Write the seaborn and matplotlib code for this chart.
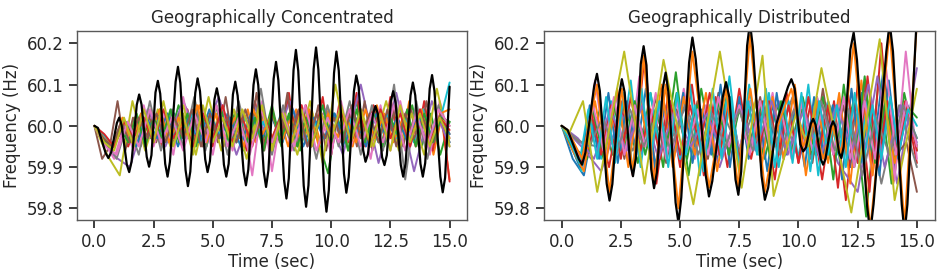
import numpy as np
import matplotlib
matplotlib.use("Agg")
import matplotlib.pyplot as plt
import seaborn as sns

# ---- data ----
# geographically concentrated: the black trace (extremes and their shoulders, read at their times)
conc_black_t = [0.0, 0.15, 0.47, 0.59, 0.71, 0.95, 1.05, 1.15, 1.37, 1.47, 1.57, 1.79, 1.89, 1.99,
                2.21, 2.31, 2.41, 2.58, 2.68, 2.78, 2.99, 3.09, 3.19, 3.43, 3.53, 3.63, 3.85, 3.95,
                4.05, 4.26, 4.36, 4.46, 4.68, 4.78, 4.88, 5.07, 5.17, 5.27, 5.47, 5.57, 5.67, 5.85,
                5.95, 6.05, 6.30, 6.40, 6.50, 6.72, 6.82, 6.92, 7.15, 7.25, 7.35, 7.57, 7.67, 7.77,
                8.01, 8.11, 8.21, 8.41, 8.51, 8.61, 8.84, 8.94, 9.04, 9.26, 9.36, 9.46, 9.70, 9.80,
                9.90, 10.12, 10.22, 10.32, 10.54, 10.64, 10.74, 10.96, 11.06, 11.16, 11.35, 11.45,
                11.55, 11.77, 11.87, 11.97, 12.15, 12.25, 12.35, 12.52, 12.62, 12.72, 12.94, 13.04,
                13.14, 13.35, 13.45, 13.55, 13.77, 13.87, 13.97, 14.16, 14.26, 14.36, 14.61, 14.71,
                14.81, 15.0]
conc_black_f = [60.0, 59.995, 59.935, 59.922, 59.936, 60.007, 60.020, 60.002, 59.906, 59.888, 59.913,
                60.051, 60.076, 60.052, 59.925, 59.901, 59.929, 60.081, 60.109, 60.078, 59.908, 59.877,
                59.913, 60.107, 60.143, 60.104, 59.893, 59.854, 59.889, 60.080, 60.115, 60.084, 59.919,
                59.888, 59.915, 60.064, 60.091, 60.062, 59.906, 59.877, 59.908, 60.076, 60.107, 60.073,
                59.890, 59.856, 59.894, 60.099, 60.137, 60.099, 59.890, 59.852, 59.893, 60.114, 60.155,
                60.110, 59.869, 59.824, 59.873, 60.135, 60.184, 60.133, 59.855, 59.804, 59.856, 60.138,
                60.190, 60.136, 59.846, 59.792, 59.844, 60.128, 60.180, 60.134, 59.884, 59.838, 59.876,
                60.084, 60.122, 60.094, 59.941, 59.913, 59.931, 60.030, 60.048, 60.029, 59.924, 59.905,
                59.929, 60.060, 60.084, 60.056, 59.905, 59.877, 59.908, 60.074, 60.105, 60.074, 59.908,
                59.877, 59.910, 60.090, 60.123, 60.085, 59.877, 59.839, 59.874, 60.095]

# the other generators, sampled evenly over 0-15 s
conc_blue = [60.0, 59.97, 59.95, 59.99, 59.96, 60.02, 59.97, 60.01, 59.96, 60.03, 59.98, 60.02, 59.96,
             60.01, 59.97, 60.03, 59.96, 60.02, 59.97, 60.01, 59.95, 60.02, 59.97, 60.03, 59.96, 60.01,
             59.97, 60.02, 59.95, 60.03, 59.97, 60.02, 59.96, 60.03, 59.98, 60.02, 59.96, 60.03, 59.97,
             60.01, 59.96]
conc_orange = [60.0, 59.98, 59.94, 59.99, 59.95, 60.02, 59.96, 60.04, 59.97, 60.03, 59.96, 60.02, 59.98,
               60.05, 59.97, 60.03, 59.95, 60.02, 59.97, 60.04, 59.96, 60.03, 59.97, 60.02, 59.95, 60.04,
               59.97, 60.03, 59.96, 60.04, 59.97, 60.02, 59.95, 60.03, 59.96, 60.05, 59.97, 60.04, 59.95,
               60.06, 59.96, 60.04, 59.93, 60.02, 59.87]
conc_green = [60.0, 59.97, 59.95, 60.0, 59.96, 60.03, 59.97, 60.04, 59.96, 60.05, 59.97, 60.03, 59.95,
              60.05, 59.96, 60.03, 59.94, 60.04, 59.96, 60.05, 59.95, 60.04, 59.94, 60.03, 59.96, 59.885,
              60.02, 59.95, 60.06, 59.96, 60.04, 59.95, 60.03, 59.96, 60.05, 59.95, 60.03, 59.93, 60.01]
conc_red = [60.0, 59.98, 59.94, 59.98, 59.95, 60.01, 59.96, 60.03, 59.95, 60.02, 59.97, 60.04, 59.96,
            60.02, 59.95, 60.03, 59.96, 60.05, 59.94, 60.06, 59.95, 60.04, 59.96, 60.08, 59.95, 60.05,
            59.97, 60.07, 59.93, 60.06, 59.96, 60.08, 59.95, 60.05, 59.94, 60.07, 59.96, 60.04, 59.95,
            60.06, 59.94, 60.04, 59.865]
conc_purple = [60.0, 59.93, 59.90, 60.04, 59.95, 60.06, 59.96, 60.07, 59.93, 60.05, 59.94, 60.06, 59.95,
               60.04, 59.93, 60.10, 59.91, 60.08, 59.89, 60.06, 59.95]
conc_brown = [60.0, 59.92, 59.95, 60.06, 59.94, 60.02, 59.95, 60.03, 59.96, 60.02, 59.95, 60.03, 59.97,
              60.04, 59.95, 60.02, 59.96, 60.07, 59.95, 60.03, 59.96, 60.08, 59.94, 60.03, 59.96, 60.08,
              59.95, 60.04, 59.96, 60.05, 59.94, 60.03, 59.96, 60.04, 59.95, 60.06, 59.94, 60.03, 59.96,
              60.05, 59.95, 60.04, 59.95, 60.06, 59.96, 60.03, 59.98]
conc_pink = [60.0, 59.96, 59.92, 60.0, 59.94, 60.05, 59.95, 60.03, 59.93, 60.07, 59.95, 60.04, 59.93,
             60.05, 59.94, 60.03, 59.88, 60.06, 59.89, 60.04, 59.94, 60.05, 59.95, 60.03, 59.93, 60.06,
             59.95, 60.04, 59.92, 60.05, 59.94, 60.06, 59.95, 60.04, 59.93, 60.06, 59.97]
conc_gray = [60.0, 59.97, 59.92, 60.01, 59.93, 60.06, 59.94, 60.04, 59.95, 60.07, 59.94, 60.05, 59.93,
             60.06, 59.95, 60.09, 59.93, 60.05, 59.94, 60.04, 59.92, 60.05, 59.95, 60.06, 59.93, 60.05,
             59.94, 60.10, 59.87, 60.06, 59.92, 60.05, 59.96]
conc_olive = [60.0, 59.93, 59.88, 60.06, 59.94, 60.04, 59.95, 60.05, 59.93, 60.07, 59.94, 60.04, 59.92,
              60.05, 59.95, 60.03, 59.93, 60.06, 59.91, 60.10, 59.94, 60.04, 59.95, 60.06, 59.94, 60.03,
              59.93, 60.09, 59.95]
conc_cyan = [60.0, 59.98, 59.95, 59.99, 59.96, 60.01, 59.97, 60.02, 59.96, 60.01, 59.97, 60.03, 59.96,
             60.02, 59.98, 60.01, 59.96, 60.02, 59.97, 60.01, 59.96, 60.03, 59.97, 60.02, 59.96, 60.01,
             59.97, 60.03, 59.96, 60.02, 59.97, 60.01, 59.96, 60.03, 59.97, 60.02, 59.96, 60.04, 59.97,
             60.02, 60.105]
conc_blue2 = [60.0, 59.96, 59.96, 60.01, 59.95, 60.02, 59.97, 60.03, 59.95, 60.02, 59.96, 60.04, 59.97,
              60.02, 59.95, 60.03, 59.97, 60.02, 59.96, 60.04, 59.95, 60.02, 59.97, 60.03, 59.96, 60.02,
              59.95, 60.03, 59.97, 60.02, 59.96, 60.03, 59.97, 60.02, 59.98]
conc_orange2 = [60.0, 59.97, 59.95, 60.02, 59.96, 60.03, 59.98, 60.04, 59.96, 60.02, 59.97, 60.05, 59.96,
                60.03, 59.97, 60.02, 59.95, 60.04, 59.98, 60.03, 59.96, 60.02, 59.97, 60.04, 59.95, 60.03,
                59.97, 60.02, 59.96, 60.04, 59.97, 60.03, 59.96, 60.02, 59.98, 60.04, 59.96, 60.03, 60.04]
conc_green2 = [60.0, 59.97, 59.94, 60.0, 59.96, 60.03, 59.95, 60.02, 59.97, 60.04, 59.96, 60.03, 59.95,
               60.02, 59.97, 60.04, 59.95, 60.03, 59.96, 60.02, 59.94, 60.04, 59.96, 60.03, 59.95, 60.02,
               59.97, 60.05, 59.96, 60.03, 59.94, 60.04, 59.96, 60.03, 59.95, 60.02, 59.97, 60.04, 59.95,
               60.03, 59.96, 60.02, 60.01]
conc_red2 = [60.0, 59.98, 59.95, 60.01, 59.97, 60.02, 59.96, 60.04, 59.97, 60.02, 59.95, 60.03, 59.97,
             60.05, 59.96, 60.02, 59.95, 60.04, 59.97, 60.03, 59.96, 60.05, 59.95, 60.03, 59.97, 60.04,
             59.96, 60.02, 59.95, 60.04, 59.97, 60.03, 59.95, 60.04, 59.96, 60.02, 59.99]
conc_pink2 = [60.0, 59.95, 59.93, 60.01, 59.95, 60.04, 59.96, 60.02, 59.94, 60.03, 59.96, 60.05, 59.95,
              60.02, 59.93, 60.04, 59.96, 60.03, 59.95, 60.05, 59.94, 60.02, 59.96, 60.04, 59.95, 60.03,
              59.96, 60.05, 59.94, 60.03, 59.95, 60.04, 60.0]
conc_olive2 = [60.0, 59.96, 59.94, 60.02, 59.95, 60.04, 59.96, 60.06, 59.95, 60.03, 59.93, 60.05, 59.96,
               60.02, 59.95, 60.04, 59.97, 60.05, 59.94, 60.03, 59.96, 60.04, 59.95, 60.03, 59.97, 60.05,
               59.96, 60.04, 59.95, 60.03, 59.94, 60.05, 59.96, 60.03, 59.95, 60.02, 59.97]
conc_brown2 = [60.0, 59.97, 59.95, 60.01, 59.96, 60.02, 59.97, 60.03, 59.96, 60.02, 59.97, 60.04, 59.95,
               60.03, 59.97, 60.02, 59.96, 60.04, 59.97, 60.03, 59.96, 60.02, 59.97, 60.04, 59.95, 60.03,
               59.97, 60.02, 59.96, 60.05, 59.97, 60.03, 59.96, 60.04, 59.95, 60.03, 59.97, 60.02, 59.96,
               60.03, 60.0]

# geographically distributed
dist_black_t = [0.0, 0.25, 0.72, 0.86, 1.00, 1.37, 1.49, 1.61, 1.90, 2.02, 2.14, 2.42, 2.54, 2.66,
                2.89, 3.01, 3.13, 3.34, 3.46, 3.58, 3.78, 3.90, 4.02, 4.27, 4.39, 4.51, 4.81, 4.93,
                5.05, 5.38, 5.52, 5.66, 6.08, 6.22, 6.36, 6.80, 6.94, 7.08, 7.34, 7.46, 7.58, 7.83,
                7.95, 8.07, 8.44, 8.58, 8.72, 9.07, 9.25, 9.56, 9.70, 9.84, 10.08, 10.20, 10.32,
                10.52, 10.62, 10.72, 10.94, 11.04, 11.14, 11.36, 11.46, 11.56, 11.71, 11.81, 11.91,
                12.19, 12.33, 12.47, 12.89, 13.03, 13.17, 13.71, 13.85, 13.99, 14.36, 14.48, 14.60,
                15.0]
dist_black_f = [60.0, 59.99, 59.92, 59.906, 59.935, 60.096, 60.126, 60.085, 59.860, 59.819, 59.859,
                60.073, 60.113, 60.081, 59.910, 59.878, 59.921, 60.150, 60.193, 60.147, 59.895, 59.849,
                59.887, 60.091, 60.129, 60.080, 59.814, 59.765, 59.826, 60.153, 60.214, 60.162, 59.881,
                59.829, 59.866, 60.069, 60.106, 60.069, 59.870, 59.833, 59.889, 60.194, 60.25, 60.192,
                59.879, 59.821, 59.850, 60.005, 60.04, 60.095, 60.113, 60.090, 59.955, 59.938, 59.948,
                60.005, 60.017, 60.003, 59.92, 59.906, 59.92, 59.997, 60.011, 59.998, 59.935, 59.922,
                59.95, 60.185, 60.226, 60.16, 59.81, 59.74, 59.81, 60.18, 60.25, 60.18, 59.81, 59.74,
                59.81, 60.27]
dist_orange_t = [0.0, 0.25, 0.86, 1.49, 2.02, 2.54, 3.01, 3.46, 3.90, 4.39, 4.93, 5.52, 6.22, 6.94,
                 7.46, 7.95, 8.58, 9.07, 9.25, 9.70, 10.20, 10.62, 11.04, 11.46, 11.81, 12.33, 13.03,
                 13.85, 14.48, 15.0]
dist_orange_f = [60.0, 59.99, 59.92, 60.10, 59.84, 60.09, 59.89, 60.17, 59.86, 60.10, 59.80, 60.18,
                 59.85, 60.09, 59.85, 60.22, 59.84, 59.99, 60.02, 60.09, 59.95, 60.01, 59.92, 60.0,
                 59.93, 60.20, 59.75, 60.23, 59.76, 60.25]
dist_olive_t = [0.0, 0.3, 0.9, 1.5, 2.64, 3.5, 4.30, 5.56, 6.68, 7.6, 8.48, 8.95, 9.9, 10.4, 10.97,
                12.23, 13.43, 14.06, 15.0]
dist_olive_f = [60.0, 59.98, 60.06, 59.84, 60.18, 59.86, 60.16, 59.81, 60.18, 59.85, 60.17, 59.83,
                60.03, 59.95, 60.14, 59.79, 60.21, 59.82, 60.09]

dist_blue = [60.0, 59.92, 59.88, 60.02, 59.93, 60.08, 59.94, 60.10, 59.92, 60.06, 59.93, 60.07, 59.95,
             60.04, 59.92, 60.08, 59.94, 60.06, 59.93, 60.05, 59.92, 60.04, 59.95, 60.07, 59.93, 60.05,
             59.90, 60.08, 59.92, 60.14, 59.90, 60.06, 59.95]
dist_green = [60.0, 59.94, 59.92, 60.04, 59.93, 60.06, 59.91, 60.08, 59.90, 60.13, 59.88, 60.09, 59.92,
              60.07, 59.93, 60.06, 59.92, 60.05, 59.94, 60.07, 59.93, 60.04, 59.92, 60.06, 59.78, 60.12,
              59.86, 60.08, 59.94]
dist_red = [60.0, 59.95, 59.92, 60.02, 59.90, 60.06, 59.88, 60.17, 59.86, 60.08, 59.90, 60.10, 59.88,
            60.07, 59.90, 60.09, 59.92, 60.06, 59.87, 60.08, 59.91, 60.05, 59.87, 60.06, 59.82, 60.10,
            59.84, 60.20, 59.86, 60.06, 59.91]
dist_purple = [60.0, 59.95, 59.89, 60.03, 59.93, 60.05, 59.92, 60.04, 59.90, 60.05, 59.93, 60.06, 59.92,
               60.05, 59.91, 59.84, 60.12, 59.86, 60.14]
dist_brown = [60.0, 59.96, 59.92, 60.03, 59.94, 60.06, 59.92, 60.05, 59.95, 60.07, 59.91, 60.04, 59.94,
              60.06, 59.92, 60.08, 59.93, 60.05, 59.95, 60.07, 59.92, 60.04, 59.94, 60.06, 59.91, 60.09,
              59.93, 60.05, 59.90, 60.10, 59.92, 60.06, 59.93, 59.96, 59.84]
dist_pink = [60.0, 59.96, 59.90, 60.11, 59.93, 60.08, 59.91, 60.12, 59.92, 60.06, 59.94, 60.09, 59.92,
             60.05, 59.93, 60.07, 59.94, 60.06, 59.95, 60.08, 59.92, 60.05, 59.94, 60.07, 59.93, 60.06,
             59.92, 60.05, 59.88, 60.10, 59.87, 60.18, 59.92]
dist_gray = [60.0, 59.96, 59.95, 60.04, 59.94, 60.03, 59.95, 60.05, 59.93, 60.04, 59.94, 60.06, 59.95,
             60.07, 59.92, 60.06, 59.94, 60.08, 59.86, 60.05, 59.90]
dist_cyan = [60.0, 59.95, 59.89, 60.02, 59.92, 60.06, 59.94, 60.11, 59.90, 60.08, 59.93, 60.06, 59.92,
             60.10, 59.88, 60.05, 59.93, 60.12, 59.91, 60.10, 59.93, 60.08, 59.90, 60.06, 59.92, 60.10,
             59.88, 60.06, 59.93, 60.04, 59.91, 60.06, 59.94, 60.05, 59.93, 60.03, 59.97]
dist_blue2 = [60.0, 59.95, 59.90, 60.05, 59.92, 60.08, 59.91, 60.06, 59.93, 60.09, 59.90, 60.05, 59.92,
              60.08, 59.91, 60.04, 59.93, 60.10, 59.90, 60.07, 59.92, 60.05, 59.89, 60.08, 59.93, 60.04,
              59.90, 60.07, 59.93, 60.05, 59.87, 60.09, 59.91, 60.06, 59.88, 60.11, 59.92, 60.05, 59.95]
dist_orange2 = [60.0, 59.94, 59.89, 60.06, 59.91, 60.09, 59.90, 60.07, 59.92, 60.10, 59.90, 60.07, 59.93,
                60.08, 59.89, 60.05, 59.92, 60.09, 59.90, 60.07, 59.92, 60.10, 59.88, 60.06, 59.91, 60.08,
                59.86, 60.11, 59.88, 60.08, 59.91, 60.05, 59.95]
dist_green2 = [60.0, 59.95, 59.93, 60.04, 59.92, 60.05, 59.94, 60.06, 59.93, 60.04, 59.95, 60.08, 59.92,
               60.05, 59.94, 60.06, 59.93, 60.04, 59.95, 60.05, 59.92, 60.06, 59.94, 60.04, 59.93, 60.07,
               59.87, 60.10, 59.90, 60.12, 59.91, 60.06, 59.94, 60.05, 60.02]
dist_red2 = [60.0, 59.96, 59.91, 60.03, 59.93, 60.05, 59.92, 60.07, 59.94, 60.04, 59.92, 60.06, 59.93,
             60.05, 59.95, 60.08, 59.93, 60.06, 59.92, 60.04, 59.94, 60.06, 59.93, 60.05, 59.91, 60.07,
             59.93, 60.05, 59.85, 60.08, 59.91, 60.12, 59.90, 60.06, 59.93, 60.05, 59.94]
dist_purple2 = [60.0, 59.97, 59.92, 60.04, 59.94, 60.05, 59.92, 60.04, 59.95, 60.03, 59.93, 60.05, 59.94,
                60.06, 59.93, 60.04, 59.92, 60.05, 59.94, 60.10, 59.90, 60.05, 59.96]
dist_pink2 = [60.0, 59.96, 59.92, 60.05, 59.94, 60.07, 59.93, 60.05, 59.95, 60.08, 59.92, 60.06, 59.94,
              60.04, 59.93, 60.07, 59.95, 60.05, 59.93, 60.06, 59.94, 60.04, 59.92, 60.06, 59.94, 60.05,
              59.93, 60.07, 59.90, 60.06, 59.92, 60.15, 59.93, 60.06, 59.95]
dist_gray2 = [60.0, 59.97, 59.95, 60.02, 59.93, 60.04, 59.95, 60.03, 59.94, 60.05, 59.93, 60.03, 59.95,
              60.04, 59.94, 60.05, 59.93, 60.04, 59.95, 60.06, 59.94, 60.04, 59.88, 60.02, 59.93, 60.05,
              59.97]
dist_cyan2 = [60.0, 59.96, 59.91, 60.04, 59.92, 60.07, 59.91, 60.08, 59.89, 60.09, 59.92, 60.06, 59.90,
              60.08, 59.93, 60.05, 59.89, 60.09, 59.92, 60.07, 59.90, 60.06, 59.93, 60.09, 59.90, 60.06,
              59.91, 60.08, 59.89, 60.06, 59.93, 60.05, 59.90, 60.08, 59.91, 60.05, 59.92, 60.07, 59.94,
              60.04, 60.00]

titles = ["Geographically Concentrated", "Geographically Distributed"]
t_end = 15.0

conc_lines = [("tab:blue", conc_blue), ("tab:orange", conc_orange), ("tab:green", conc_green),
              ("tab:red", conc_red), ("tab:purple", conc_purple), ("tab:brown", conc_brown),
              ("tab:pink", conc_pink), ("tab:gray", conc_gray), ("tab:olive", conc_olive),
              ("tab:cyan", conc_cyan), ("tab:blue", conc_blue2), ("tab:orange", conc_orange2),
              ("tab:green", conc_green2), ("tab:red", conc_red2), ("tab:brown", conc_brown2),
              ("tab:pink", conc_pink2), ("tab:olive", conc_olive2)]
dist_lines = [("tab:blue", dist_blue), ("tab:green", dist_green), ("tab:red", dist_red),
              ("tab:purple", dist_purple), ("tab:brown", dist_brown), ("tab:pink", dist_pink),
              ("tab:gray", dist_gray), ("tab:cyan", dist_cyan), ("tab:blue", dist_blue2),
              ("tab:orange", dist_orange2), ("tab:green", dist_green2), ("tab:red", dist_red2),
              ("tab:purple", dist_purple2), ("tab:pink", dist_pink2), ("tab:gray", dist_gray2),
              ("tab:cyan", dist_cyan2)]

sns.set_theme(style="ticks", rc={"axes.edgecolor": "0.35", "axes.linewidth": 1.0,
                                 "xtick.color": "0.15", "ytick.color": "0.15",
                                 "lines.solid_joinstyle": "round"})
plt.rcParams["font.family"] = ["DejaVu Sans"]

fig, axes = plt.subplots(1, 2, figsize=(9.46, 2.76), dpi=100)
fig.subplots_adjust(left=0.081, right=0.988, bottom=0.203, top=0.888, wspace=0.196)

for ax, lines in zip(axes, [conc_lines, dist_lines]):
    for color, vals in lines:
        sns.lineplot(x=np.linspace(0, t_end, len(vals)), y=vals, ax=ax, color=color, linewidth=1.4)

sns.lineplot(x=dist_olive_t, y=dist_olive_f, ax=axes[1], color="tab:olive", linewidth=1.4)
sns.lineplot(x=dist_orange_t, y=dist_orange_f, ax=axes[1], color="tab:orange", linewidth=1.4)
sns.lineplot(x=conc_black_t, y=conc_black_f, ax=axes[0], color="black", linewidth=1.6)
sns.lineplot(x=dist_black_t, y=dist_black_f, ax=axes[1], color="black", linewidth=1.6)

for ax, title in zip(axes, titles):
    ax.set_xlim(-0.75, 15.75)
    ax.set_ylim(59.772, 60.23)
    ax.set_xticks([0, 2.5, 5, 7.5, 10, 12.5, 15])
    ax.set_yticks([59.8, 59.9, 60.0, 60.1, 60.2])
    ax.tick_params(labelsize=12)
    ax.set_title(title, fontsize=12)
    ax.set_xlabel("Time (sec)", fontsize=12, labelpad=1)
    ax.set_ylabel("Frequency (Hz)", fontsize=12)

fig.savefig("out.png", dpi=100)
